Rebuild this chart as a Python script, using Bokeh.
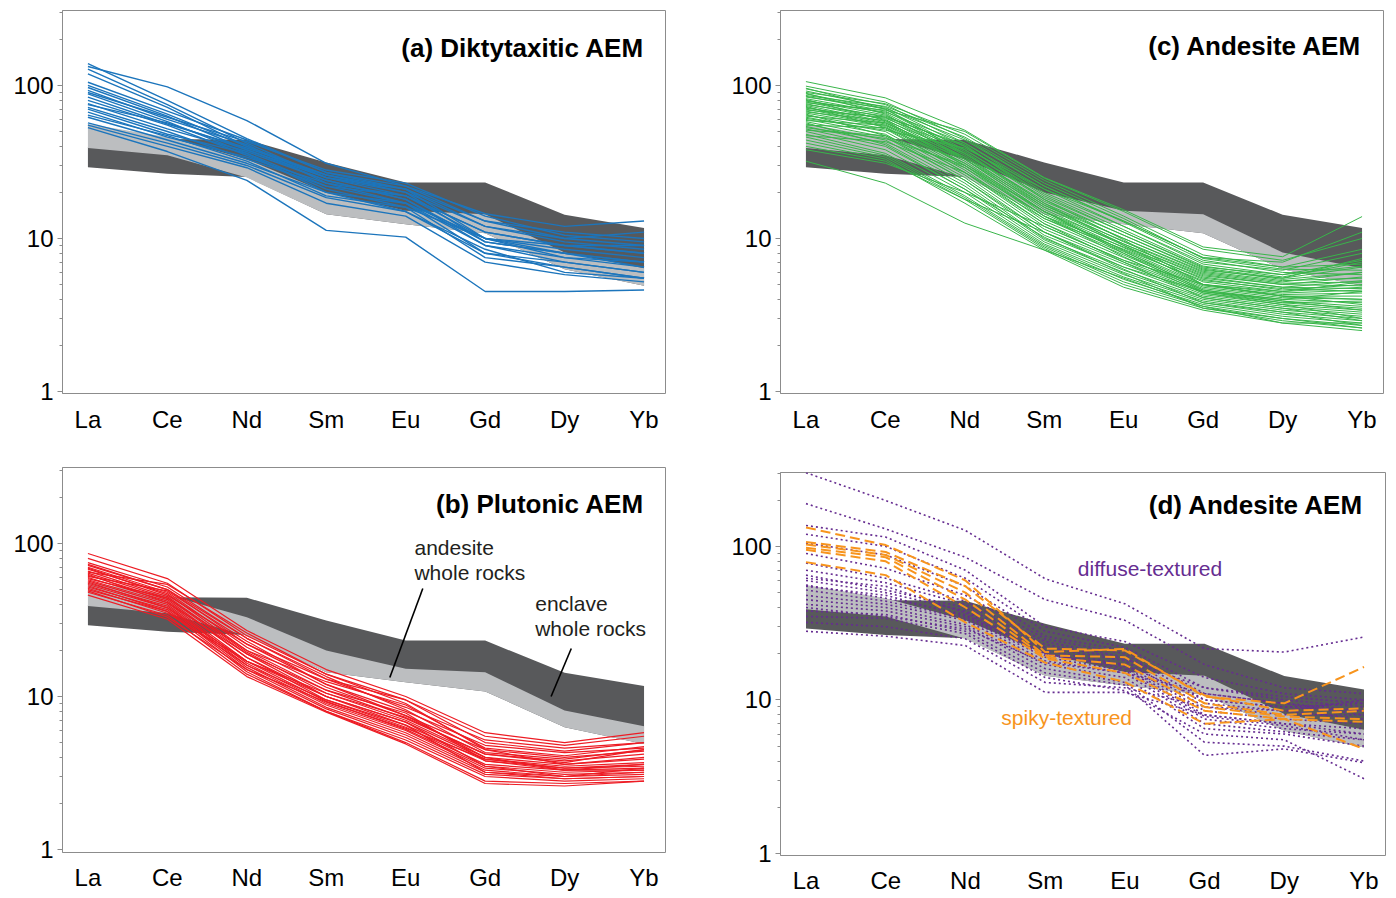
from bokeh.plotting import figure
from bokeh.layouts import row, column
from bokeh.models import FixedTicker, Label, Range1d, BasicTickFormatter
from bokeh.embed import file_html
from bokeh.resources import INLINE

ree = ["La", "Ce", "Nd", "Sm", "Eu", "Gd", "Dy", "Yb"]
x_idx = list(range(len(ree)))

# whole-rock envelopes (chondrite-normalised)
enclave_upper = [39.7, 44.6, 44.2, 31.4, 23.2, 23.2, 14.3, 11.7]
enclave_lower = [29.2, 26.5, 25.2, 14.4, 12.4, 10.8, 6.3, 4.9]
andesite_upper = [56, 46, 33, 20, 15.2, 14.4, 8.1, 6.4]
andesite_lower = [39, 35, 25, 14.4, 12.4, 10.8, 6.3, 4.9]

# (a) diktytaxitic AEM
diktytaxitic = [
    [133, 98, 59, 31, 22, 14.5, 12, 13],
    [139, 80, 45, 27, 21, 10, 9, 9],
    [128, 75, 42, 25, 20, 9.5, 8, 7],
    [119, 72, 40, 26, 21, 12, 9.5, 8.5],
    [105, 68, 44, 27, 22, 13, 11, 10],
    [100, 65, 40, 25, 19, 11, 9, 8],
    [97, 63, 38, 24, 18, 9.5, 8, 6.5],
    [93, 60, 41, 23, 17, 8, 7, 6],
    [88, 58, 36, 22, 19, 10, 8.5, 7.5],
    [84, 56, 39, 26, 20, 12, 10, 11],
    [80, 55, 35, 21, 16, 7.5, 6.5, 5.5],
    [76, 52, 37, 24, 18, 9, 7, 6],
    [72, 50, 33, 22, 17, 10, 7.5, 7],
    [70, 48, 36, 20, 15, 8.5, 6, 5.5],
    [67, 46, 34, 23, 19, 11, 9, 8],
    [64, 47, 32, 19, 16, 10, 8, 7],
    [57, 42, 30, 18.5, 15, 8, 6.5, 5.5],
    [53, 37, 24, 11.3, 10.2, 4.5, 4.5, 4.6],
    [55, 40, 29, 17, 14, 7, 5.8, 5.2],
    [90, 62, 43, 28, 23, 14, 10.5, 9.5],
    [75, 57, 38, 25, 21, 13, 10, 9],
    [62, 44, 31, 20, 17, 9, 7.5, 6.5],
]

# (b) plutonic AEM
plutonic = [
    [86, 59, 27, 15, 10, 5.8, 5.0, 5.8],
    [80, 55, 25, 14, 9.5, 5.5, 4.8, 5.5],
    [75, 52, 24, 13, 8.5, 5.2, 4.6, 5.0],
    [72, 50, 22, 12, 8, 4.8, 4.3, 4.6],
    [70, 48, 21, 11.5, 7.5, 4.5, 4.0, 4.4],
    [68, 47, 20, 11, 7.2, 4.2, 3.8, 4.2],
    [66, 45, 19.5, 10.5, 7, 4.0, 3.6, 3.9],
    [64, 44, 19, 10, 6.8, 3.9, 3.5, 3.7],
    [62, 43, 18, 10, 6.5, 3.8, 3.4, 3.5],
    [60, 42, 18, 9.5, 6.3, 3.6, 3.3, 3.4],
    [58, 41, 17, 9.3, 6.1, 3.5, 3.2, 3.3],
    [57, 40, 16.5, 9, 6, 3.4, 3.1, 3.2],
    [55, 39, 16, 8.8, 5.8, 3.3, 3.0, 3.1],
    [54, 38, 15.5, 8.5, 5.6, 3.2, 2.9, 3.0],
    [52, 37, 15, 8.3, 5.4, 3.1, 2.9, 3.0],
    [50, 36, 14.5, 8.0, 5.2, 3.0, 2.8, 2.9],
    [48, 34, 14, 8, 5.0, 2.8, 2.7, 2.8],
    [46, 32, 13.5, 7.9, 4.9, 2.7, 2.6, 2.8],
    [65, 54, 26, 14, 9, 4.5, 3.6, 4.0],
    [61, 49, 23, 12, 7.5, 4.0, 3.3, 3.6],
    [69, 46, 22, 13, 9.5, 5.0, 4.4, 5.0],
    [59, 44, 20, 12.5, 8.8, 4.6, 4.1, 4.7],
    [63, 41, 19, 11, 7.8, 3.8, 3.3, 3.3],
    [56, 38, 17, 10, 6.8, 3.5, 3.0, 3.2],
    [53, 36, 16, 9.5, 6.5, 3.2, 3.0, 3.4],
    [51, 35, 17, 10.5, 7.3, 4.2, 3.7, 4.5],
    [73, 50, 24, 13.5, 8.2, 4.3, 3.9, 4.5],
    [49, 33, 15, 9.2, 6.2, 3.9, 3.4, 3.6],
]

# (c) andesite AEM
andesite_aem = [
    [106, 83, 51, 25, 15.4, 8.8, 7.6, 13.9],
    [99, 78, 45, 22, 13, 7.5, 7.0, 11],
    [95, 75, 42, 21, 12, 7.0, 6.2, 8],
    [92, 72, 40, 19, 11, 6.5, 5.8, 7.2],
    [88, 70, 38, 18, 10.5, 6.2, 5.5, 6.5],
    [85, 68, 37, 17, 10, 6.0, 5.2, 6.0],
    [82, 66, 36, 16.5, 9.5, 5.8, 5.0, 5.6],
    [80, 64, 35, 16, 9.2, 5.6, 4.8, 5.3],
    [78, 62, 34, 15.5, 9.0, 5.4, 4.6, 5.0],
    [76, 60, 33, 15, 8.7, 5.2, 4.5, 4.8],
    [74, 58, 32, 14.5, 8.4, 5.0, 4.4, 4.6],
    [72, 57, 31, 14, 8.2, 4.9, 4.3, 4.4],
    [70, 56, 30, 13.5, 8.0, 4.8, 4.2, 4.2],
    [68, 55, 29, 13, 7.8, 4.7, 4.1, 4.0],
    [66, 54, 28, 12.5, 7.5, 4.6, 4.0, 3.8],
    [64, 52, 27, 12, 7.2, 4.5, 3.9, 3.6],
    [62, 50, 26, 11.5, 7.0, 4.4, 3.8, 3.5],
    [60, 48, 25, 11, 6.8, 4.3, 3.7, 3.4],
    [58, 46, 24, 10.5, 6.5, 4.2, 3.6, 3.3],
    [56, 44, 23, 10, 6.2, 4.1, 3.5, 3.2],
    [54, 42, 22, 9.8, 6.0, 4.0, 3.4, 3.1],
    [52, 40, 21, 9.5, 5.8, 3.9, 3.3, 3.0],
    [50, 38, 20, 9.2, 5.6, 3.8, 3.2, 2.9],
    [48, 36, 19, 9.0, 5.4, 3.7, 3.1, 2.8],
    [46, 35, 18.5, 8.8, 5.2, 3.6, 3.0, 2.7],
    [44, 34, 18, 8.6, 5.0, 3.5, 2.9, 2.6],
    [42, 33, 17, 8.4, 4.8, 3.4, 2.8, 2.5],
    [32, 23, 12.6, 8.4, 5.5, 3.6, 2.8, 2.8],
    [40, 32, 18, 11, 6.5, 4.5, 4.0, 4.5],
    [38, 31, 20, 12, 7.2, 5.0, 4.5, 5.2],
    [90, 76, 48, 24, 14, 7.8, 6.5, 6.8],
    [86, 73, 46, 23, 13.5, 7.4, 6.3, 6.2],
    [84, 71, 44, 22, 12.8, 7.2, 6.0, 5.8],
    [79, 67, 42, 20, 12, 6.8, 5.8, 6.6],
    [75, 63, 40, 19.5, 11.4, 6.6, 5.6, 7.0],
    [71, 61, 38, 18.5, 11, 6.4, 5.5, 7.4],
    [67, 59, 36, 17.5, 10.5, 6.3, 5.4, 6.0],
    [63, 57, 34, 16.5, 10, 6.1, 5.3, 5.5],
    [59, 55, 33, 16, 9.6, 5.9, 5.1, 5.2],
    [55, 53, 31, 15, 9.2, 5.7, 5.0, 4.9],
    [51, 47, 29, 14, 8.8, 5.5, 4.8, 4.7],
    [47, 43, 27, 13.5, 8.5, 5.3, 4.7, 4.5],
    [96, 70, 36, 17, 9.0, 5.0, 4.2, 3.7],
    [89, 65, 33, 15, 8.3, 4.6, 3.9, 3.4],
    [81, 59, 30, 14, 7.6, 4.4, 3.7, 3.0],
    [73, 53, 27, 12.5, 7.0, 4.1, 3.5, 2.9],
    [65, 47, 24, 11, 6.3, 3.8, 3.3, 2.7],
    [57, 41, 21, 10.2, 5.9, 3.5, 3.0, 2.6],
    [77, 69, 50, 24.8, 15, 8.5, 7.2, 10],
    [61, 51, 39, 21, 13, 7.5, 6.5, 8.5],
    [69, 62, 41, 18, 9.8, 5.0, 4.2, 4.0],
    [53, 45, 30, 15, 8.0, 4.5, 3.8, 3.9],
]

# (d) andesite AEM by texture
diffuse = [
    [302, 199, 127, 61.6, 42.3, 21.6, 20.5, 25.7],
    [190, 130, 85, 45, 33, 17, 12, 11],
    [137, 115, 70, 30, 24, 14, 11, 10],
    [120, 100, 62, 28, 22, 12, 10, 9],
    [105, 88, 55, 26, 21, 11, 9.5, 8.5],
    [90, 72, 48, 25, 20, 10, 9, 9.5],
    [78, 62, 44, 24, 19, 9.5, 8.5, 10],
    [65, 52, 40, 22, 18, 9, 8, 8.0],
    [60, 50, 38, 21, 17, 8.5, 7.5, 7],
    [56, 46, 36, 20, 16.5, 8, 7, 6.5],
    [52, 44, 34, 19, 15.5, 7.5, 6.5, 6],
    [48, 42, 33, 18, 15, 7, 6.2, 5.5],
    [45, 40, 31, 17, 14, 6.5, 6, 5],
    [42, 38, 30, 16, 13, 5.3, 5.0, 4.0],
    [38, 36, 28, 15, 12.5, 4.35, 4.8, 3.9],
    [35, 34, 27, 14, 11.5, 6, 5.5, 3.07],
    [28, 26, 22.6, 11.2, 11.2, 8, 7, 6],
    [32, 30, 25, 13, 12, 9, 8.5, 7.5],
    [70, 58, 42, 23, 18.5, 12, 10.5, 9.5],
    [55, 48, 35, 19.5, 17, 10, 9, 8.5],
    [62, 55, 37, 20, 16, 7.8, 6.8, 5.5],
    [40, 35, 29, 17.5, 15, 11, 9.5, 8],
]
spiky = [
    [133, 102, 60, 20.5, 21.5, 10.5, 9.5, 16.4],
    [107, 92, 55, 21.6, 21, 10.7, 8.5, 8.8],
    [103, 88, 50, 19.5, 19, 9.5, 8.0, 8.5],
    [98, 85, 45, 19, 17, 9, 7.8, 7.5],
    [95, 80, 40, 18.6, 15, 8.5, 7.5, 7.2],
    [79, 65, 32, 17.5, 13.1, 7.0, 7.5, 4.8],
]

FONT = "Liberation Sans"
DARK = "#58595b"
LIGHT = "#bcbec0"
FRAME = "#8c8c8c"
major_y = [1, 10, 100]
minor_y = [2, 3, 4, 5, 6, 7, 8, 9, 20, 30, 40, 50, 60, 70, 80, 90, 200, 300]


def make_fig(ymin, ymax, fw, fh, bl, br, bt, bb, standoff):
    p = figure(frame_width=fw, frame_height=fh, y_axis_type="log",
               x_range=Range1d(-0.32, 7.27), y_range=Range1d(ymin, ymax),
               output_backend="svg", toolbar_location=None,
               min_border_left=bl, min_border_right=br,
               min_border_top=bt, min_border_bottom=bb)
    p.grid.visible = False
    p.outline_line_color = FRAME
    p.outline_line_width = 1
    p.background_fill_color = "white"
    p.border_fill_color = "white"
    xa = p.xaxis[0]
    xa.ticker = FixedTicker(ticks=x_idx)
    xa.major_label_overrides = {i: n for i, n in zip(x_idx, ree)}
    xa.axis_line_color = None
    xa.major_tick_line_color = None
    xa.minor_tick_line_color = None
    xa.major_tick_out = 0
    xa.major_tick_in = 0
    xa.major_label_text_font = FONT
    xa.major_label_text_font_size = "24px"
    xa.major_label_text_color = "black"
    xa.major_label_standoff = standoff
    ya = p.yaxis[0]
    ya.ticker = FixedTicker(ticks=major_y, minor_ticks=minor_y)
    ya.formatter = BasicTickFormatter()
    ya.axis_line_color = FRAME
    ya.major_tick_line_color = FRAME
    ya.minor_tick_line_color = FRAME
    ya.major_tick_out = 5
    ya.major_tick_in = 0
    ya.minor_tick_out = 3
    ya.minor_tick_in = 0
    ya.major_label_text_font = FONT
    ya.major_label_text_font_size = "24px"
    ya.major_label_text_color = "black"
    ya.major_label_standoff = 4
    # whole-rock envelopes
    p.varea(x=x_idx, y1=enclave_lower, y2=enclave_upper, fill_color=DARK)
    p.varea(x=x_idx, y1=andesite_lower, y2=andesite_upper, fill_color=LIGHT)
    return p


def add_title(p, text, y):
    p.add_layout(Label(x=7, y=y, text=text, text_align="right", text_baseline="middle",
                       text_font=FONT, text_font_style="bold", text_font_size="26px",
                       text_color="black"))


def add_lines(p, data, color, width, dash="solid"):
    p.multi_line(xs=[x_idx] * len(data), ys=data, line_color=color,
                 line_width=width, line_dash=dash)


pa = make_fig(0.97, 309, 603, 383, 62, 53, 10, 62, 12)
add_lines(pa, diktytaxitic, "#1c75bc", 1.4)
add_title(pa, "(a) Diktytaxitic AEM", 175)

pb = make_fig(0.956, 314, 603, 385, 62, 53, 12, 46, 11)
add_lines(pb, plutonic, "#ed1c24", 1.2)
add_title(pb, "(b) Plutonic AEM", 182)

# annotation for envelopes in (b)
ann_andesite_xy = (4.11, 94.0, 64.5)
ann_enclave_xy = (5.63, 40.5, 27.8)
leader_andesite = ([4.215, 3.80], [50.8, 13.3])
leader_enclave = ([6.084, 5.83], [20.6, 10.0])
for (x, y1, y2), words in [(ann_andesite_xy, ("andesite", "whole rocks")),
                           (ann_enclave_xy, ("enclave", "whole rocks"))]:
    pb.add_layout(Label(x=x, y=y1, text=words[0], text_baseline="middle",
                        text_font=FONT, text_font_size="21px", text_color="#231f20"))
    pb.add_layout(Label(x=x, y=y2, text=words[1], text_baseline="middle",
                        text_font=FONT, text_font_size="21px", text_color="#231f20"))
for lx, ly in [leader_andesite, leader_enclave]:
    pb.line(x=lx, y=ly, line_color="black", line_width=1.6)

pc = make_fig(0.97, 309, 603, 383, 62, 13, 10, 62, 12)
add_lines(pc, andesite_aem, "#39b54a", 1.0)
add_title(pc, "(c) Andesite AEM", 182)

pd_ = make_fig(0.97, 303, 605, 383, 62, 11, 17, 43, 11)
add_lines(pd_, diffuse, "#662d91", 1.6, "2 3")
add_lines(pd_, spiky, "#f7941d", 2.0, "10 5")
add_title(pd_, "(d) Andesite AEM", 185)
pd_.add_layout(Label(x=3.41, y=72, text="diffuse-textured", text_baseline="middle",
                     text_font=FONT, text_font_size="21px", text_color="#662d91"))
pd_.add_layout(Label(x=2.45, y=7.7, text="spiky-textured", text_baseline="middle",
                     text_font=FONT, text_font_size="21px", text_color="#f7941d"))

layout = row(column(pa, pb), column(pc, pd_))
open("out.html", "w").write(file_html(layout, INLINE))
